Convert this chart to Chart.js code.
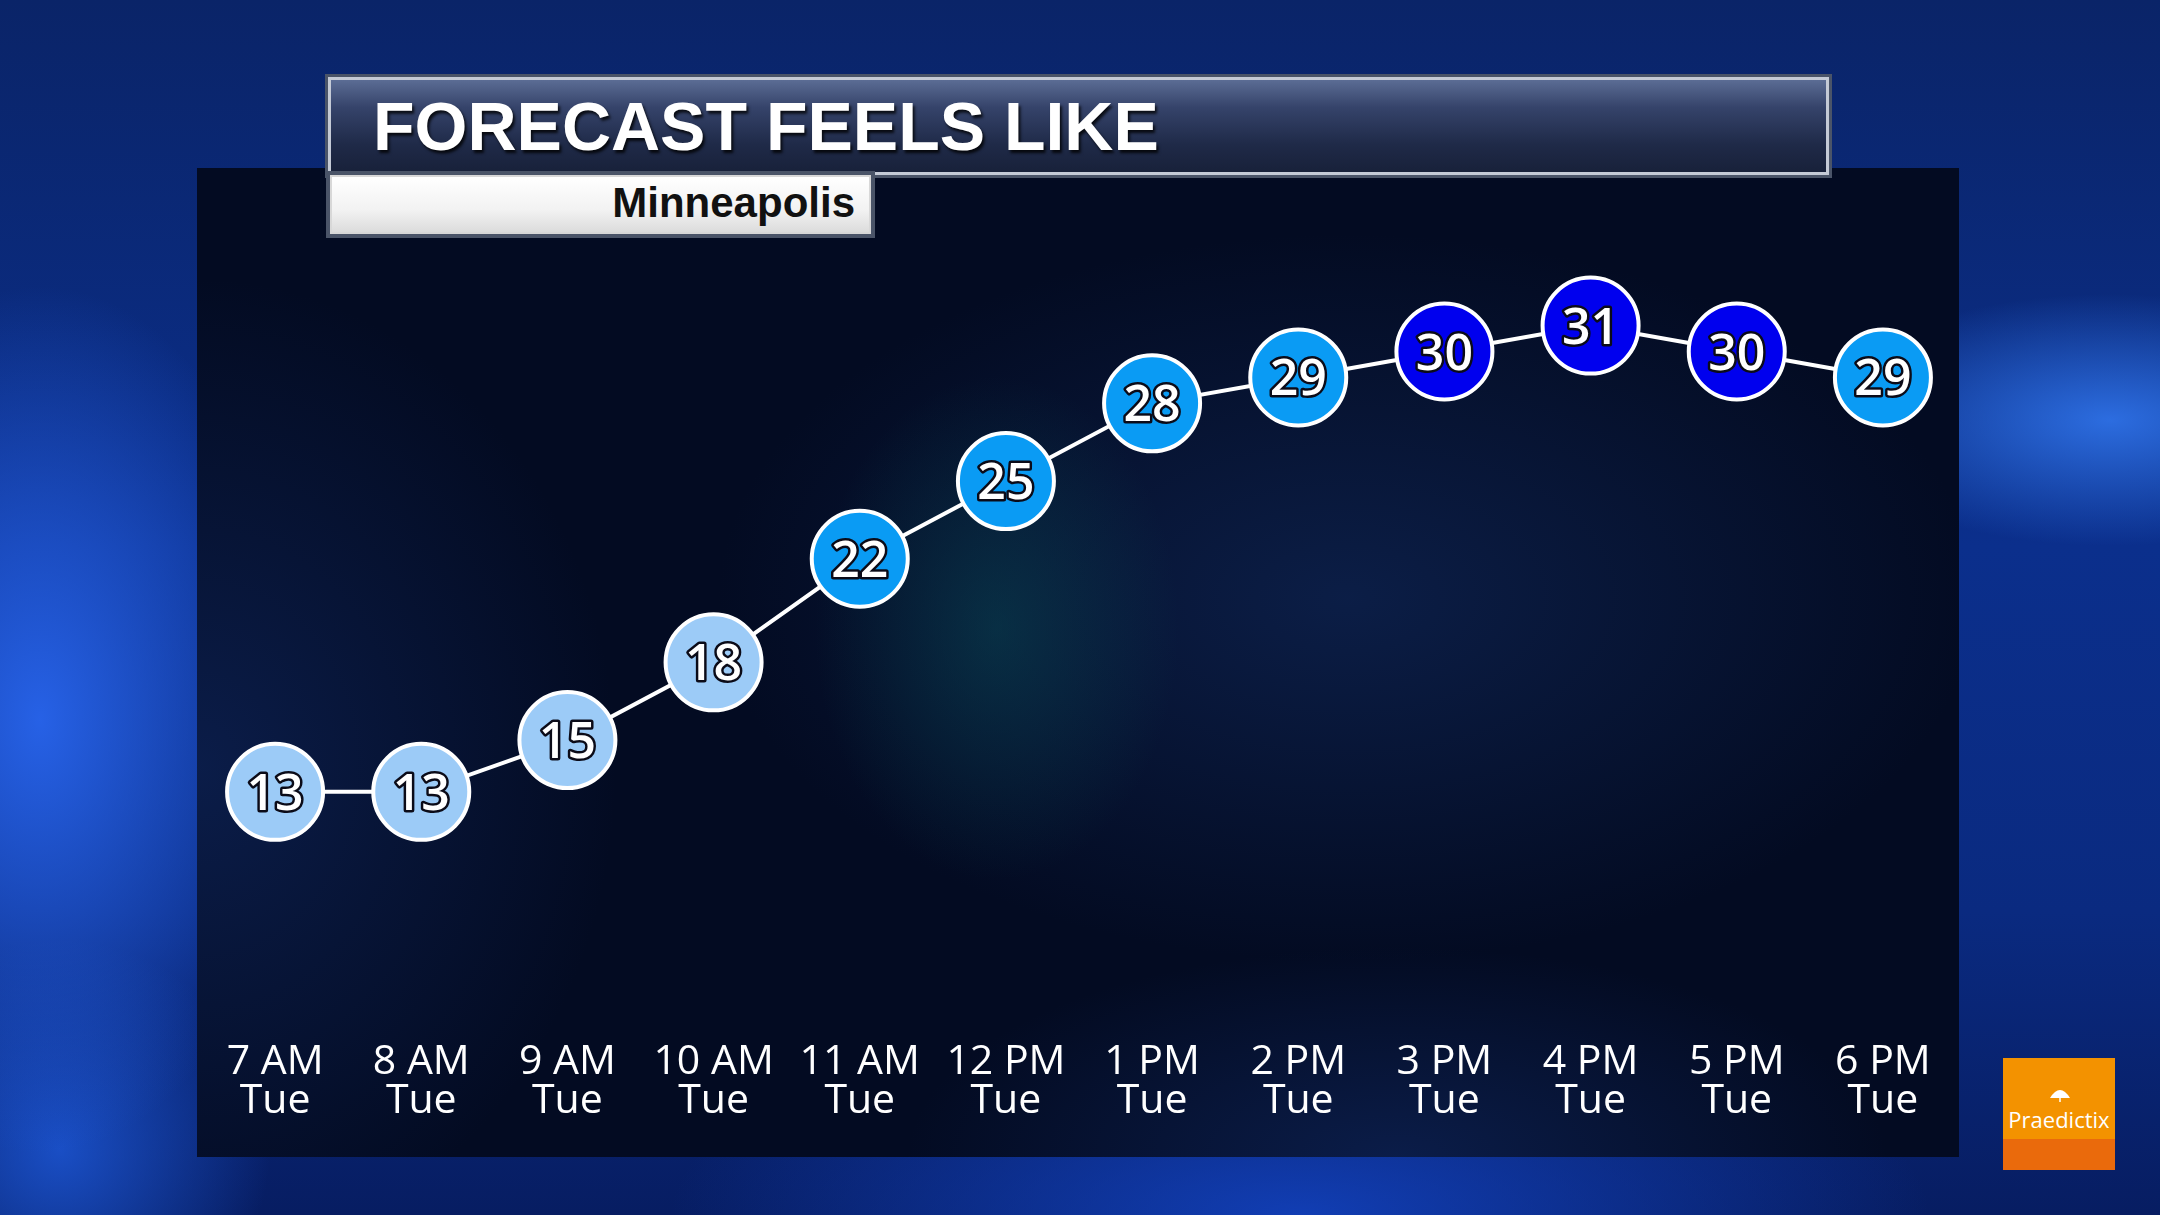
<!DOCTYPE html>
<html>
<head>
<meta charset="utf-8">
<script src="https://cdn.jsdelivr.net/npm/chart.js@4.4.1/dist/chart.umd.min.js"></script>
<style>
  html, body { margin: 0; padding: 0; width: 2160px; height: 1215px; overflow: hidden; }
  body {
    background:
      radial-gradient(ellipse 380px 620px at 40px 720px, rgba(40,100,235,0.95), rgba(40,100,235,0) 70%),
      radial-gradient(ellipse 300px 300px at 60px 1150px, rgba(30,90,220,0.8), rgba(30,90,220,0) 70%),
      radial-gradient(ellipse 420px 180px at 2110px 420px, rgba(50,120,240,0.85), rgba(50,120,240,0) 70%),
      radial-gradient(ellipse 900px 300px at 1300px 1215px, rgba(20,70,200,0.8), rgba(20,70,200,0) 70%),
      linear-gradient(180deg, #0a2468 0%, #0b2f8c 45%, #0a2a80 75%, #071d62 100%);
    font-family: "Open Sans", sans-serif;
  }
  #panel {
    position: absolute; left: 197px; top: 168px; width: 1762px; height: 989px;
    background:
      radial-gradient(ellipse 260px 360px at 800px 460px, rgba(10,80,90,0.45), rgba(10,80,90,0) 70%),
      radial-gradient(ellipse 900px 520px at 1150px 430px, rgba(18,45,100,0.55), rgba(18,45,100,0) 70%),
      radial-gradient(ellipse 600px 700px at 0px 600px, rgba(20,50,120,0.45), rgba(20,50,120,0) 70%),
      radial-gradient(ellipse 700px 300px at 1200px 989px, rgba(20,50,120,0.45), rgba(20,50,120,0) 70%),
      #030b22;
  }
  #titleBar {
    position: absolute; left: 328px; top: 77px; width: 1495px; height: 92px;
    border: 3px solid #c4cad6; outline: 3px solid #4a5468;
    background: linear-gradient(180deg, #5b6c94 0%, #35436a 30%, #1f2a48 70%, #18213a 100%);
  }
  #titleBar span {
    position: absolute; left: 42px; top: 7px;
    font-family: "Liberation Sans", Arial, sans-serif; font-weight: bold;
    font-size: 68px; color: #fff;
    text-shadow: 2px 3px 3px rgba(0,0,0,0.8);
  }
  #subBox {
    position: absolute; left: 330px; top: 175px; width: 537px; height: 55px;
    border: 2px solid #d8d8d8; outline: 4px solid #4a5468;
    background: linear-gradient(180deg, #ffffff 0%, #f2f2f2 60%, #dcdcdc 100%);
  }
  #subBox span {
    position: absolute; right: 14px; top: 2px;
    font-family: "Liberation Sans", Arial, sans-serif; font-weight: bold;
    font-size: 42px; color: #111;
  }
  #chartWrap { position: absolute; left: 0; top: 0; width: 2160px; height: 1215px; }
  #logo {
    position: absolute; left: 2003px; top: 1058px; width: 112px; height: 112px;
    background: linear-gradient(180deg, #f39200 0%, #f39200 72%, #ea6a0c 72%, #ea6a0c 100%);
  }
  #logo span {
    position: absolute; left: 0; width: 112px; top: 46px; text-align: center;
    color: #fff; font-size: 22px; font-family: "Open Sans", sans-serif;
  }
  #logo svg { position: absolute; left: 46px; top: 30px; }
</style>
</head>
<body>
<div id="panel"></div>
<div id="chartWrap"><canvas id="chart" width="2160" height="1215"></canvas></div>
<div id="titleBar"><span>FORECAST FEELS LIKE</span></div>
<div id="subBox"><span>Minneapolis</span></div>
<div id="logo">
  <svg width="22" height="14" viewBox="0 0 22 14">
    <path d="M1 10 Q11 -6 21 10 Z" fill="#fff"/>
    <line x1="11" y1="10" x2="11" y2="14" stroke="#fff" stroke-width="1.5"/>
  </svg>
  <span>Praedictix</span>
</div>
<script>
  // Datos
  const hourLabels = ["7 AM", "8 AM", "9 AM", "10 AM", "11 AM", "12 PM", "1 PM", "2 PM", "3 PM", "4 PM", "5 PM", "6 PM"];
  const dayLabels = ["Tue", "Tue", "Tue", "Tue", "Tue", "Tue", "Tue", "Tue", "Tue", "Tue", "Tue", "Tue"];
  const feelsLike = [13, 13, 15, 18, 22, 25, 28, 29, 30, 31, 30, 29];

  // Color del punto segun valor
  const pointColor = (v) => {
    if (v >= 30) return "#0000ee";
    if (v >= 20) return "#0a9bf4";
    return "#9ccbf7";
  };

  // Plugin: numeros dentro de los circulos
  const valueLabels = {
    id: "valueLabels",
    afterDatasetsDraw(chart) {
      const ctx = chart.ctx;
      const meta = chart.getDatasetMeta(0);
      const data = chart.data.datasets[0].data;
      ctx.save();
      ctx.font = '600 50px "Open Sans"';
      ctx.textAlign = "center";
      ctx.textBaseline = "alphabetic";
      ctx.lineJoin = "round";
      meta.data.forEach((pt, i) => {
        const t = String(data[i]);
        ctx.lineWidth = 5;
        ctx.strokeStyle = "#0b0b18";
        ctx.strokeText(t, pt.x, pt.y + 18);
        ctx.fillStyle = "#ffffff";
        ctx.fillText(t, pt.x, pt.y + 18);
      });
      ctx.restore();
    }
  };

  const ctx = document.getElementById("chart").getContext("2d");
  new Chart(ctx, {
    type: "line",
    data: {
      labels: hourLabels.map((h, i) => [h, dayLabels[i]]),
      datasets: [{
        data: feelsLike,
        borderColor: "#ffffff",
        borderWidth: 4,
        tension: 0,
        clip: false,
        pointRadius: 48,
        pointHoverRadius: 48,
        pointBorderWidth: 4,
        pointBorderColor: "#ffffff",
        pointBackgroundColor: (c) => pointColor(c.raw)
      }]
    },
    options: {
      responsive: false,
      animation: false,
      layout: { padding: { left: 202, right: 204, top: 222, bottom: 50 } },
      plugins: { legend: { display: false }, tooltip: { enabled: false } },
      scales: {
        x: {
          offset: true,
          border: { display: false },
          grid: { display: false, drawTicks: false },
          ticks: {
            color: "#ffffff",
            padding: 44,
            maxRotation: 0,
            autoSkip: false,
            font: { family: "Open Sans", size: 41, lineHeight: 0.95 }
          }
        },
        y: {
          display: false,
          min: 5,
          max: 35
        }
      }
    },
    plugins: [valueLabels]
  });
</script>
</body>
</html>
